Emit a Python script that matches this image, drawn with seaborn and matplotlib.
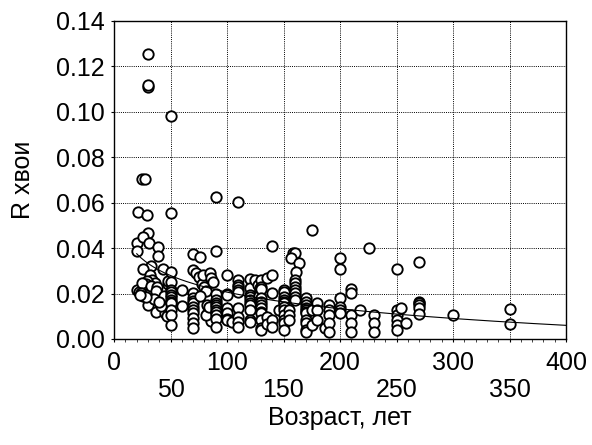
import numpy as np
import pandas as pd
import matplotlib
matplotlib.use("Agg")
import matplotlib.pyplot as plt
import seaborn as sns
from matplotlib.ticker import MultipleLocator

# Stand age (years) and needle R for each sampled tree
age_years = [
    # young stands, 20-48 years
    20, 20.5, 20, 22, 21.5, 24.5, 27.5, 30, 30, 30.5, 29.5, 30.5, 25.5, 31, 39,
    39, 33, 26, 43.5, 32, 34, 36, 29, 28, 25, 33, 38, 37.5, 24, 26, 44, 30.5,
    37.5, 45, 42, 35, 28, 23, 48, 48, 40, 47,
    # 50
    50, 50, 50, 50, 50, 50, 50, 50, 50, 50, 50, 50, 50, 50,
    # 60
    60, 60,
    # 70
    70, 70, 70, 70, 70, 70, 70, 70, 70, 70, 70, 70,
    # 73-88
    73, 76.5, 75.5, 78, 80, 79, 81, 76, 82, 82, 86, 81, 84, 85, 86, 88,
    # 90
    90, 90, 90, 90, 90, 90, 90, 90, 90, 90, 90, 90,
    # 100-104
    100, 100, 100, 100, 100, 100, 100, 104,
    # 110
    110, 110, 110, 110, 110, 110, 110, 110, 110, 110,
    # 120-129
    120, 120, 120, 120, 120, 120, 120, 120, 120, 120, 125, 127.5, 129, 128.5,
    # 130-135
    130, 130, 130, 130, 130, 130, 130, 130, 130, 130, 130, 130, 135, 135, 135,
    # 140-146
    140, 140, 140, 140, 140, 146,
    # 150-155
    150, 150, 150, 150, 150, 150, 150, 150, 150, 150, 150, 150, 155, 155, 155,
    # 157-164
    158, 160.5, 157, 164, 161, 160, 160, 160, 160, 160, 160, 160,
    # 170-190
    170, 170, 170, 170, 170, 170, 170, 170, 170, 170, 170,
    175, 175, 175, 180, 180, 180, 186.5, 190, 190, 190, 190, 190,
    # 200-230
    200, 200, 200, 200, 200, 200, 210, 210, 210, 210, 210, 218, 225.5,
    230, 230, 230,
    # 250-350
    250, 250, 250, 250, 250, 250, 254, 258.5,
    270, 270, 270, 270, 270, 270, 300, 350, 350,
]

r_needles = [
    # young stands, 20-48 years
    0.0421, 0.0387, 0.0216, 0.0205, 0.0560, 0.0703, 0.0704, 0.1253, 0.1110,
    0.1120, 0.0546, 0.0468, 0.0450, 0.0424, 0.0406, 0.0365, 0.0321, 0.0307,
    0.0309, 0.0282, 0.0260, 0.0246, 0.0255, 0.0240, 0.0245, 0.0233, 0.0229,
    0.0210, 0.0201, 0.0190, 0.0190, 0.0150, 0.0120, 0.0113, 0.0145, 0.0175,
    0.0185, 0.0195, 0.0240, 0.0255, 0.0165, 0.0100,
    # 50
    0.0980, 0.0553, 0.0296, 0.0251, 0.0216, 0.0205, 0.0194, 0.0183, 0.0172,
    0.0164, 0.0157, 0.0128, 0.0106, 0.0062,
    # 60
    0.0216, 0.0147,
    # 70
    0.0374, 0.0304, 0.0201, 0.0179, 0.0167, 0.0157, 0.0142, 0.0128, 0.0113,
    0.0091, 0.0069, 0.0047,
    # 73-88
    0.0290, 0.0362, 0.0274, 0.0240, 0.0230, 0.0280, 0.0210, 0.0190, 0.0150,
    0.0110, 0.0080, 0.0106, 0.0140, 0.0290, 0.0270, 0.0250,
    # 90
    0.0623, 0.0389, 0.0200, 0.0172, 0.0160, 0.0150, 0.0140, 0.0128, 0.0118,
    0.0106, 0.0090, 0.0055,
    # 100-104
    0.0282, 0.0200, 0.0194, 0.0135, 0.0113, 0.0090, 0.0084, 0.0077,
    # 110
    0.0603, 0.0260, 0.0238, 0.0230, 0.0216, 0.0205, 0.0135, 0.0096, 0.0077,
    0.0055,
    # 120-129
    0.0265, 0.0223, 0.0194, 0.0187, 0.0172, 0.0157, 0.0150, 0.0128, 0.0084,
    0.0077, 0.0260, 0.0238, 0.0223, 0.0190,
    # 130-135
    0.0260, 0.0230, 0.0220, 0.0179, 0.0164, 0.0150, 0.0135, 0.0120, 0.0113,
    0.0084, 0.0047, 0.0040, 0.0270, 0.0099, 0.0066,
    # 140-146
    0.0410, 0.0280, 0.0202, 0.0084, 0.0055, 0.0128,
    # 150-155
    0.0216, 0.0208, 0.0187, 0.0172, 0.0165, 0.0157, 0.0142, 0.0128, 0.0106,
    0.0084, 0.0069, 0.0040, 0.0128, 0.0106, 0.0084,
    # 157-164
    0.0377, 0.0377, 0.0355, 0.0333, 0.0296, 0.0260, 0.0245, 0.0230, 0.0216,
    0.0201, 0.0186, 0.0172,
    # 170-190
    0.0179, 0.0164, 0.0150, 0.0135, 0.0128, 0.0120, 0.0113, 0.0084, 0.0069,
    0.0040, 0.0029,
    0.0480, 0.0128, 0.0062, 0.0157, 0.0128, 0.0084, 0.0047, 0.0150, 0.0128,
    0.0106, 0.0069, 0.0029,
    # 200-230
    0.0355, 0.0310, 0.0179, 0.0142, 0.0128, 0.0113, 0.0220, 0.0201, 0.0106,
    0.0069, 0.0029, 0.0128, 0.0400,
    0.0106, 0.0069, 0.0029,
    # 250-350
    0.0310, 0.0128, 0.0106, 0.0084, 0.0062, 0.0040, 0.0136, 0.0070,
    0.0337, 0.0164, 0.0158, 0.0150, 0.0136, 0.0112, 0.0106, 0.0133, 0.0065,
]

x_ticks = [0, 50, 100, 150, 200, 250, 300, 350, 400]
x_tick_labels = ["0", "\n50", "100", "\n150", "200", "\n250", "300", "\n350", "400"]
y_ticks = [0.00, 0.02, 0.04, 0.06, 0.08, 0.10, 0.12, 0.14]
y_tick_labels = ["0.00", "0.02", "0.04", "0.06", "0.08", "0.10", "0.12", "0.14"]

sns.set_style("ticks")
plt.rcParams["font.family"] = ["Liberation Sans", "DejaVu Sans"]
plt.rcParams["font.size"] = 18
plt.rcParams["text.color"] = "black"
plt.rcParams["axes.labelcolor"] = "black"

df = pd.DataFrame({"age": age_years, "r": r_needles})

fig = plt.figure(figsize=(5.92, 4.45), dpi=100)
ax = fig.add_axes([114 / 592, 1 - 339 / 445, (566 - 114) / 592, (339 - 21) / 445])

sns.scatterplot(
    data=df, x="age", y="r", ax=ax, marker="o", s=56,
    color="white", edgecolor="black", linewidth=1.35, zorder=3, legend=False,
)

# logarithmic trend: R = a + b * ln(age)
slope, intercept = np.polyfit(np.log(df["age"]), df["r"], 1)
fit_age = np.linspace(df["age"].min(), 400, 200)
fit = pd.DataFrame({"age": fit_age, "r": intercept + slope * np.log(fit_age)})
sns.lineplot(data=fit, x="age", y="r", ax=ax, color="black", linewidth=0.8, zorder=4)

ax.set_xlim(0, 400)
ax.set_ylim(0, 0.14)
ax.set_xticks(x_ticks)
ax.set_xticklabels(x_tick_labels)
ax.set_yticks(y_ticks)
ax.set_yticklabels(y_tick_labels)
ax.xaxis.set_minor_locator(MultipleLocator(10))

ax.grid(True, which="major", linestyle=(0, (1, 1.2)), color="black", linewidth=0.7)
ax.set_axisbelow(True)

ax.tick_params(axis="x", which="major", direction="out", length=2.5, width=0.8,
               pad=6.5, labelsize=18, colors="black")
ax.tick_params(axis="x", which="minor", direction="out", length=2, width=0.6)
ax.tick_params(axis="y", which="major", direction="out", length=2.5, width=0.8,
               pad=4, labelsize=18, colors="black")
for lab in ax.get_xticklabels():
    lab.set_linespacing(1.13)

for side in ["top", "right", "left", "bottom"]:
    ax.spines[side].set_visible(True)
    ax.spines[side].set_color("black")
    ax.spines[side].set_linewidth(1.0)

ax.set_xlabel("Возраст, лет", fontsize=18, color="black")
ax.set_ylabel("R хвои", fontsize=18, color="black")
ax.xaxis.set_label_coords(0.5, -0.21)
ax.yaxis.set_label_coords(-0.175, 0.5)

fig.savefig("out.png", dpi=100)
